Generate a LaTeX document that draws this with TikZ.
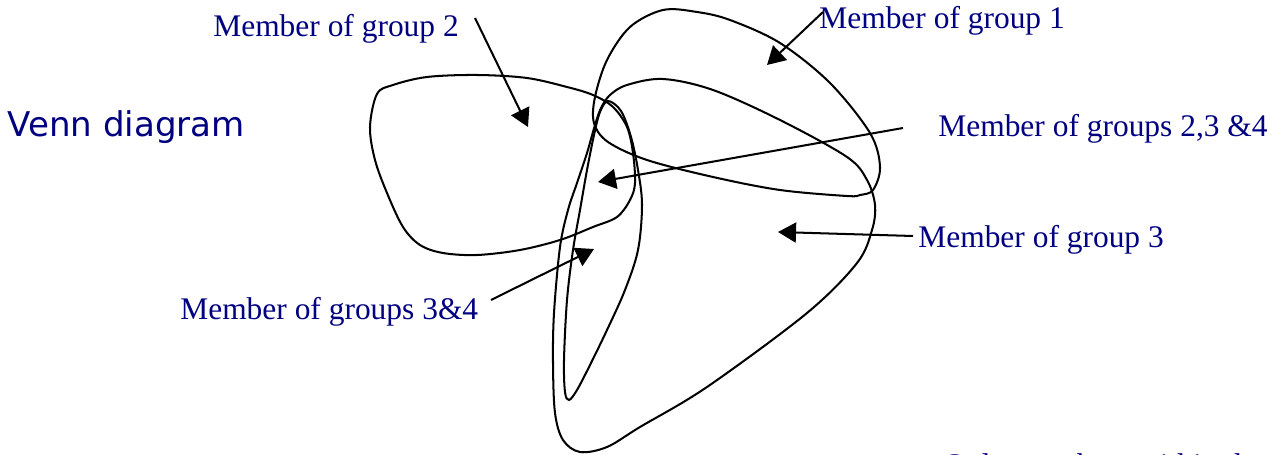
\documentclass[tikz,border=0pt]{standalone}
\usepackage{fontspec}
\setmainfont{Liberation Serif}
\newfontfamily\titlefont{DejaVu Sans}
\usetikzlibrary{arrows.meta}
\usetikzlibrary{positioning}
\definecolor{labelnavy}{RGB}{0,0,128}

\begin{document}
\begin{tikzpicture}[x=0.02cm, y=-0.02cm,
    member/.style={text=labelnavy, font=\fontsize{17.9pt}{20pt}\selectfont, inner sep=0pt, anchor=base west},
    outline/.style={line width=1.15pt},
    pointer/.style={line width=1.15pt, -{Triangle[length=0.36cm,width=0.4cm]}}]
    \clip (0,0) rectangle (1284,455);
    % group 2
    \draw[outline] plot[smooth cycle, tension=0.55] coordinates {(377,94) (393,85) (427,77) (477,75) (527,78) (567,87) (593,95) (613,107) (627,127) (633,153) (635,183) (630,200) (617,217) (593,227) (560,240) (520,250) (477,255) (443,253) (420,245) (403,227) (387,193) (375,160) (370,127)};
    % group 1
    \draw[outline] plot[smooth cycle, tension=0.55] coordinates {(663,10) (697,12) (730,20) (780,43) (830,83) (870,133) (880,167) (873,190) (860,195) (847,196) (780,190) (713,177) (647,160) (608,142) (594,123) (595,97) (607,60) (630,27)};
    % group 3
    \draw[outline] plot[smooth cycle, tension=0.55] coordinates {(610,95) (627,85) (663,79) (713,90) (780,120) (847,157) (867,180) (875,205) (872,230) (857,263) (807,313) (707,387) (640,427) (607,447) (580,452) (563,440) (555,413) (553,363) (554,313) (560,247) (568,210) (577,183) (587,153) (595,125) (601,108)};
    % group 4
    \draw[outline] plot[smooth cycle, tension=0.55] coordinates {(608,101) (621,111) (631,137) (638,170) (642,205) (638,250) (625,290) (607,330) (590,365) (577,390) (569,400) (565,392) (564,360) (567,300) (573,250) (580,210) (587,170) (594,135) (600,112)};

    \node[anchor=base west, text=labelnavy, font=\titlefont\fontsize{19.4pt}{22pt}\selectfont, inner sep=0pt] (title) at (7,137) {Venn diagram};
    \node[member] (g2label) at (213,37) {Member of group 2};
    \node[member] (g1label) at (819,29) {Member of group 1};
    \node[member] (g234label) at (938,137) {Member of groups 2,3 \&4};
    \node[member] (g3label) at (918,248) {Member of group 3};
    \node[member] (g34label) at (180,320) {Member of groups 3\&4};
    \node[member] (onlylabel) at (943,476) {Only members within the};

    \coordinate (g2from) at (475,18);
    \coordinate (g2tip) at (528,127);
    \coordinate (g1from) at (823,12);
    \coordinate (g1tip) at (767,65);
    \coordinate (g234from) at (903,128);
    \coordinate (g234tip) at (598,182);
    \coordinate (g3from) at (913,236);
    \coordinate (g3tip) at (778,232);
    \coordinate (g34from) at (491,300);
    \coordinate (g34tip) at (594,249);
    \draw[pointer] (g2from) -- (g2tip);
    \draw[pointer] (g1from) -- (g1tip);
    \draw[pointer] (g234from) -- (g234tip);
    \draw[pointer] (g3from) -- (g3tip);
    \draw[pointer] (g34from) -- (g34tip);
\end{tikzpicture}
\end{document}
